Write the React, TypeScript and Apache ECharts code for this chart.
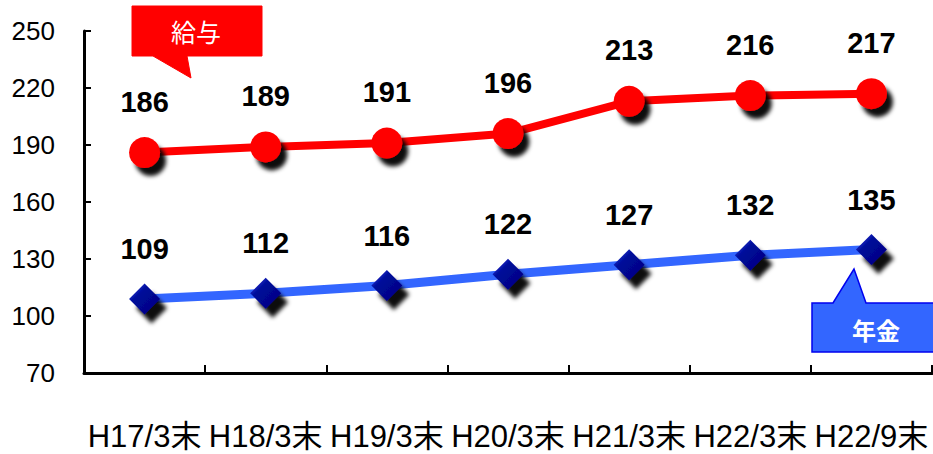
import React, { useEffect, useRef } from "react";
import * as echarts from "echarts";

const categories = ["H17/3末", "H18/3末", "H19/3末", "H20/3末", "H21/3末", "H22/3末", "H22/9末"];
const kyuyo = [186, 189, 191, 196, 213, 216, 217];
const nenkin = [109, 112, 116, 122, 127, 132, 135];
const yMin = 70;
const yMax = 250;
const yInterval = 30;

const LATIN = '"Liberation Sans", Arial, "Noto Sans CJK JP", sans-serif';

export default function App() {
  const ref = useRef<HTMLDivElement>(null);
  useEffect(() => {
    if (!ref.current) return;
    const chart = echarts.init(ref.current, undefined, { renderer: "svg" });
    chart.setOption({
      animation: false,
      backgroundColor: "#ffffff",
      grid: { left: 84, right: 1, top: 31, bottom: 81 },
      xAxis: {
        type: "category",
        data: categories,
        boundaryGap: true,
        axisLine: { show: true, lineStyle: { color: "#000", width: 3 } },
        axisTick: { show: true, inside: true, length: 8, lineStyle: { color: "#000", width: 2 } },
        axisLabel: {
          color: "#000",
          fontFamily: LATIN,
          fontSize: 31,
          margin: 48,
          interval: 0,
        },
      },
      yAxis: {
        type: "value",
        min: yMin,
        max: yMax,
        interval: yInterval,
        axisLine: { show: true, lineStyle: { color: "#000", width: 3 } },
        axisTick: { show: true, inside: true, length: 7, lineStyle: { color: "#000", width: 2 } },
        splitLine: { show: false },
        axisLabel: {
          color: "#000",
          fontFamily: LATIN,
          fontSize: 26,
          margin: 29,
        },
      },
      series: [
        {
          name: "給与",
          type: "line",
          data: kyuyo,
          symbol: "circle",
          symbolSize: 31,
          lineStyle: { color: "#ff0000", width: 8 },
          itemStyle: {
            color: "#ff0000",
            shadowColor: "rgba(0,0,0,0.95)",
            shadowBlur: 4,
            shadowOffsetX: 6,
            shadowOffsetY: 8,
          },
          label: {
            show: true,
            position: "top",
            distance: 21,
            color: "#000",
            fontFamily: LATIN,
            fontWeight: "bold",
            fontSize: 29,
          },
          z: 3,
        },
        {
          name: "年金",
          type: "line",
          data: nenkin,
          symbol: "diamond",
          symbolSize: 31,
          lineStyle: { color: "#3366ff", width: 9 },
          itemStyle: {
            color: new echarts.graphic.LinearGradient(0, 0, 1, 1, [
              { offset: 0, color: "#2a4cf0" },
              { offset: 0.35, color: "#000a99" },
              { offset: 1, color: "#000080" },
            ]),
            shadowColor: "rgba(0,0,0,0.95)",
            shadowBlur: 4,
            shadowOffsetX: 7,
            shadowOffsetY: 9,
          },
          label: {
            show: true,
            position: "top",
            distance: 20,
            color: "#000",
            fontFamily: LATIN,
            fontWeight: "bold",
            fontSize: 29,
          },
          z: 3,
        },
      ],
      graphic: [
        {
          type: "polygon",
          shape: {
            points: [
              [132, 6], [262, 6], [262, 56], [187, 56], [191, 78], [153, 56], [132, 56],
            ],
          },
          style: { fill: "#ff0000", stroke: "#ff0000", lineWidth: 1 },
          z: 10,
        },
        {
          type: "text",
          x: 196,
          y: 31,
          style: {
            text: "給与",
            fill: "#ffffff",
            fontFamily: '"Noto Sans CJK JP", sans-serif',
            fontSize: 25,
            fontWeight: "normal",
            align: "center",
            verticalAlign: "middle",
          },
          z: 11,
        },
        {
          type: "polygon",
          shape: {
            points: [
              [812, 303], [833, 303], [854, 269], [866, 303], [936, 303], [936, 352], [812, 352],
            ],
          },
          style: { fill: "#3366ff", stroke: "#0000ee", lineWidth: 1.5 },
          z: 10,
        },
        {
          type: "text",
          x: 876,
          y: 329,
          style: {
            text: "年金",
            fill: "#ffffff",
            fontFamily: '"Noto Sans CJK JP", sans-serif',
            fontSize: 24,
            fontWeight: "bold",
            align: "center",
            verticalAlign: "middle",
          },
          z: 11,
        },
      ],
    });
    return () => chart.dispose();
  }, []);
  return <div ref={ref} style={{ width: 933, height: 454, position: "absolute", left: 0, top: 0 }} />;
}
